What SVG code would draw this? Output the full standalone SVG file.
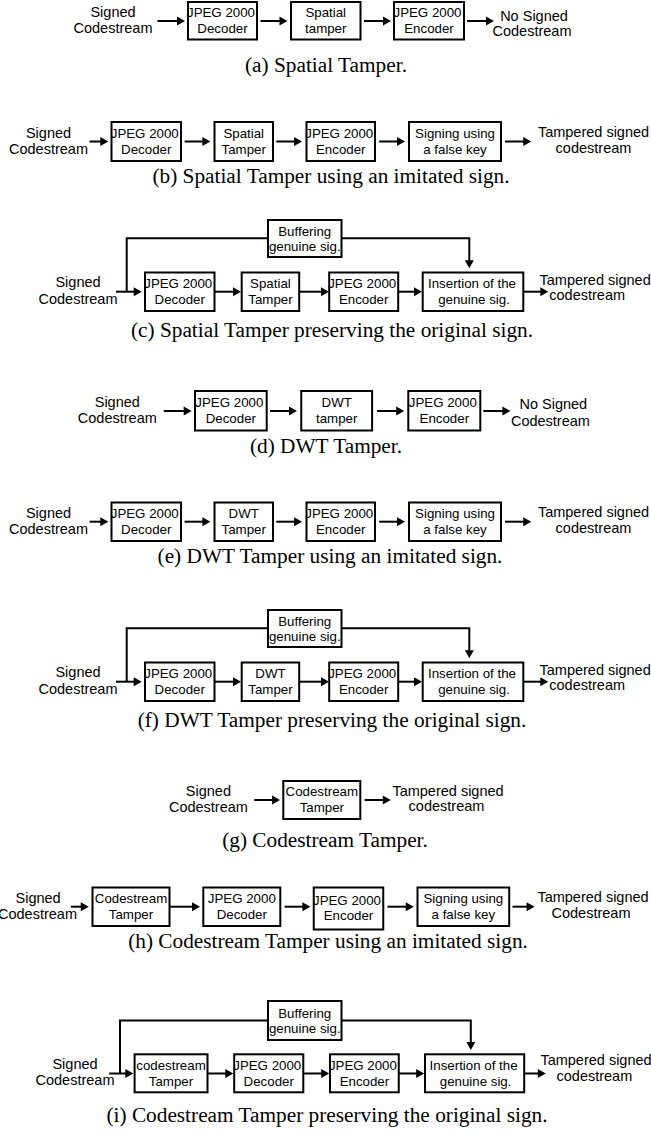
<svg xmlns="http://www.w3.org/2000/svg" width="651" height="1139" viewBox="0 0 651 1139">
  <style>
    .n rect { fill: #fff; stroke: #000; stroke-width: 2; }
    .bt { font-family: "Liberation Sans", Arial, sans-serif; font-size: 13.3px; text-anchor: middle; fill: #000; }
    .lb { font-family: "Liberation Sans", Arial, sans-serif; font-size: 14.5px; text-anchor: middle; fill: #000; }
    .ls { text-anchor: start; }
    .cap { font-family: "Liberation Serif", "Times New Roman", serif; font-size: 21.3px; text-anchor: middle; fill: #000; }
    .a { fill: none; stroke: #000; stroke-width: 2; marker-end: url(#ah); }
    .w { fill: none; stroke: #000; stroke-width: 2; }
  </style>
  <defs>
    <marker id="ah" markerUnits="userSpaceOnUse" markerWidth="8" markerHeight="9" refX="2" refY="4.5" orient="auto" overflow="visible">
      <path d="M0,0 L8,4.5 L0,9 Z" fill="#000"/>
    </marker>
  </defs>
  <rect width="651" height="1139" fill="#fff"/>

  <!-- (a) spatial tamper -->
  <g id="fig-a">
    <g id="a-connectors">
      <path class="a" d="M157.5,21 H179"/>
      <path class="a" d="M260.5,21 H281.5"/>
      <path class="a" d="M364,21 H385"/>
      <path class="a" d="M467,21 H488"/>
    </g>
    <g id="a-in"><text class="lb" x="113" y="17">Signed</text><text class="lb" x="113" y="33">Codestream</text></g>
    <g id="a-dec" class="n"><rect x="188" y="2" width="69" height="37.5"/><text class="bt" x="221" y="17">JPEG 2000</text><text class="bt" x="222.5" y="33">Decoder</text></g>
    <g id="a-tamper" class="n"><rect x="291" y="2" width="69.5" height="37.5"/><text class="bt" x="325.75" y="17">Spatial</text><text class="bt" x="325.75" y="33">tamper</text></g>
    <g id="a-enc" class="n"><rect x="394" y="2" width="70" height="37.5"/><text class="bt" x="427.5" y="17">JPEG 2000</text><text class="bt" x="429" y="33">Encoder</text></g>
    <g id="a-out"><text class="lb" x="534" y="21">No Signed</text><text class="lb" x="532" y="36">Codestream</text></g>
    <text class="cap" x="326" y="71.7">(a) Spatial Tamper.</text>
  </g>

  <!-- (b) spatial tamper, re-signed with a false key -->
  <g id="fig-b">
    <g id="b-connectors">
      <path class="a" d="M89.6,141.5 H102.3"/>
      <path class="a" d="M184.6,141.5 H204.4"/>
      <path class="a" d="M276.25,141.5 H296.1"/>
      <path class="a" d="M379.2,141.5 H399"/>
      <path class="a" d="M505,141.5 H525.25"/>
    </g>
    <g id="b-in"><text class="lb" x="48.5" y="137.5">Signed</text><text class="lb" x="48.5" y="153.5">Codestream</text></g>
    <g id="b-dec" class="n"><rect x="111.5" y="122" width="69.5" height="39"/><text class="bt" x="144.75" y="137.5">JPEG 2000</text><text class="bt" x="146.25" y="153.5">Decoder</text></g>
    <g id="b-tamper" class="n"><rect x="214.5" y="122" width="58.5" height="39"/><text class="bt" x="243.75" y="137.5">Spatial</text><text class="bt" x="243.75" y="153.5">Tamper</text></g>
    <g id="b-enc" class="n"><rect x="306.5" y="122" width="68.5" height="39"/><text class="bt" x="339.25" y="137.5">JPEG 2000</text><text class="bt" x="340.75" y="153.5">Encoder</text></g>
    <g id="b-sign" class="n"><rect x="409" y="122" width="92" height="39"/><text class="bt" x="455" y="137.5">Signing using</text><text class="bt" x="455" y="153.5">a false key</text></g>
    <g id="b-out"><text class="lb" x="593.5" y="137">Tampered signed</text><text class="lb" x="593.5" y="153">codestream</text></g>
    <text class="cap" x="331" y="183.3">(b) Spatial Tamper using an imitated sign.</text>
  </g>

  <!-- (c) spatial tamper, genuine signature re-inserted -->
  <g id="fig-c">
    <g id="c-connectors">
      <path class="w" d="M126.7,291.7 V238.3 H268"/>
      <path class="a" d="M341.5,238.3 H469.3 V262.3"/>
      <path class="a" d="M116,291.7 H135.7"/>
      <path class="a" d="M214.5,291.7 H235"/>
      <path class="a" d="M299.2,291.7 H323"/>
      <path class="a" d="M398.2,291.7 H416"/>
      <path class="a" d="M523.3,291.7 H542.3"/>
    </g>
    <g id="c-buf" class="n"><rect x="268" y="220" width="73.5" height="37"/><text class="bt" x="304.75" y="236">Buffering</text><text class="bt" x="304.75" y="251">genuine sig.</text></g>
    <g id="c-in"><text class="lb" x="78" y="287.3">Signed</text><text class="lb" x="78" y="304">Codestream</text></g>
    <g id="c-dec" class="n"><rect x="145" y="272.5" width="69.5" height="38.5"/><text class="bt" x="178.25" y="287.5">JPEG 2000</text><text class="bt" x="179.75" y="304">Decoder</text></g>
    <g id="c-tamper" class="n"><rect x="241.7" y="272.5" width="57.5" height="38.5"/><text class="bt" x="270.45" y="287.5">Spatial</text><text class="bt" x="270.45" y="304">Tamper</text></g>
    <g id="c-enc" class="n"><rect x="329.2" y="272.5" width="69" height="38.5"/><text class="bt" x="362.2" y="287.5">JPEG 2000</text><text class="bt" x="363.7" y="304">Encoder</text></g>
    <g id="c-ins" class="n"><rect x="422.7" y="272.5" width="100.6" height="38.5"/><text class="bt" x="472" y="287.5">Insertion of the</text><text class="bt" x="474" y="304">genuine sig.</text></g>
    <g id="c-out"><text class="lb ls" x="539.5" y="285">Tampered signed</text><text class="lb ls" x="549.3" y="300">codestream</text></g>
    <text class="cap" x="332" y="337.3">(c) Spatial Tamper preserving the original sign.</text>
  </g>

  <!-- (d) DWT tamper -->
  <g id="fig-d">
    <g id="d-connectors">
      <path class="a" d="M163.75,411 H185.7"/>
      <path class="a" d="M270,411 H291"/>
      <path class="a" d="M377,411 H398.2"/>
      <path class="a" d="M483.3,411 H504.4"/>
    </g>
    <g id="d-in"><text class="lb" x="117.3" y="406.7">Signed</text><text class="lb" x="117.3" y="422.7">Codestream</text></g>
    <g id="d-dec" class="n"><rect x="195" y="391" width="71.7" height="39.5"/><text class="bt" x="229.35" y="406.7">JPEG 2000</text><text class="bt" x="230.85" y="422.7">Decoder</text></g>
    <g id="d-tamper" class="n"><rect x="301.25" y="391" width="70.85" height="39.5"/><text class="bt" x="336.7" y="406.7">DWT</text><text class="bt" x="336.7" y="422.7">tamper</text></g>
    <g id="d-enc" class="n"><rect x="408.3" y="391" width="72" height="39.5"/><text class="bt" x="442.8" y="406.7">JPEG 2000</text><text class="bt" x="444.3" y="422.7">Encoder</text></g>
    <g id="d-out"><text class="lb" x="553.3" y="409.3">No Signed</text><text class="lb" x="550.4" y="426">Codestream</text></g>
    <text class="cap" x="326" y="452.7">(d) DWT Tamper.</text>
  </g>

  <!-- (e) DWT tamper, re-signed with a false key -->
  <g id="fig-e">
    <g id="e-connectors">
      <path class="a" d="M89.6,521.7 H102.3"/>
      <path class="a" d="M184.6,521.7 H204.4"/>
      <path class="a" d="M276.25,521.7 H296.1"/>
      <path class="a" d="M379.2,521.7 H399"/>
      <path class="a" d="M505,521.7 H525.25"/>
    </g>
    <g id="e-in"><text class="lb" x="48.5" y="518">Signed</text><text class="lb" x="48.5" y="534">Codestream</text></g>
    <g id="e-dec" class="n"><rect x="111.5" y="502.5" width="69.5" height="38.5"/><text class="bt" x="144.75" y="517.5">JPEG 2000</text><text class="bt" x="146.25" y="534">Decoder</text></g>
    <g id="e-tamper" class="n"><rect x="214.5" y="502.5" width="58.5" height="38.5"/><text class="bt" x="243.75" y="517.5">DWT</text><text class="bt" x="243.75" y="534">Tamper</text></g>
    <g id="e-enc" class="n"><rect x="306.5" y="502.5" width="68.5" height="38.5"/><text class="bt" x="339.25" y="517.5">JPEG 2000</text><text class="bt" x="340.75" y="534">Encoder</text></g>
    <g id="e-sign" class="n"><rect x="409" y="502.5" width="92" height="38.5"/><text class="bt" x="455" y="517.5">Signing using</text><text class="bt" x="455" y="534">a false key</text></g>
    <g id="e-out"><text class="lb" x="593.5" y="517.3">Tampered signed</text><text class="lb" x="593.5" y="533.3">codestream</text></g>
    <text class="cap" x="330" y="563.3">(e) DWT Tamper using an imitated sign.</text>
  </g>

  <!-- (f) DWT tamper, genuine signature re-inserted -->
  <g id="fig-f">
    <g id="f-connectors">
      <path class="w" d="M126.7,681.7 V628.3 H268"/>
      <path class="a" d="M341.5,628.3 H469.3 V652.3"/>
      <path class="a" d="M116,681.7 H135.7"/>
      <path class="a" d="M214.5,681.7 H235"/>
      <path class="a" d="M299.2,681.7 H323"/>
      <path class="a" d="M398.2,681.7 H416"/>
      <path class="a" d="M523.3,681.7 H542.3"/>
    </g>
    <g id="f-buf" class="n"><rect x="268" y="610" width="73.5" height="37"/><text class="bt" x="304.75" y="626">Buffering</text><text class="bt" x="304.75" y="641">genuine sig.</text></g>
    <g id="f-in"><text class="lb" x="78" y="677.3">Signed</text><text class="lb" x="78" y="694">Codestream</text></g>
    <g id="f-dec" class="n"><rect x="145" y="662.5" width="69.5" height="38.5"/><text class="bt" x="178.25" y="677.5">JPEG 2000</text><text class="bt" x="179.75" y="694">Decoder</text></g>
    <g id="f-tamper" class="n"><rect x="241.7" y="662.5" width="57.5" height="38.5"/><text class="bt" x="270.45" y="677.5">DWT</text><text class="bt" x="270.45" y="694">Tamper</text></g>
    <g id="f-enc" class="n"><rect x="329.2" y="662.5" width="69" height="38.5"/><text class="bt" x="362.2" y="677.5">JPEG 2000</text><text class="bt" x="363.7" y="694">Encoder</text></g>
    <g id="f-ins" class="n"><rect x="422.7" y="662.5" width="100.6" height="38.5"/><text class="bt" x="472" y="677.5">Insertion of the</text><text class="bt" x="474" y="694">genuine sig.</text></g>
    <g id="f-out"><text class="lb ls" x="539.5" y="675">Tampered signed</text><text class="lb ls" x="549.3" y="690">codestream</text></g>
    <text class="cap" x="332" y="727.3">(f) DWT Tamper preserving the original sign.</text>
  </g>

  <!-- (g) codestream tamper -->
  <g id="fig-g">
    <g id="g-connectors">
      <path class="a" d="M254.2,800 H274"/>
      <path class="a" d="M364.6,800 H384.8"/>
    </g>
    <g id="g-in"><text class="lb" x="208.4" y="796">Signed</text><text class="lb" x="208.4" y="811.7">Codestream</text></g>
    <g id="g-tamper" class="n"><rect x="283.3" y="781" width="77" height="38"/><text class="bt" x="321.8" y="796">Codestream</text><text class="bt" x="321.8" y="812">Tamper</text></g>
    <g id="g-out"><text class="lb" x="448" y="795.7">Tampered signed</text><text class="lb" x="446.5" y="811">codestream</text></g>
    <text class="cap" x="325" y="846.7">(g) Codestream Tamper.</text>
  </g>

  <!-- (h) codestream tamper, re-signed with a false key -->
  <g id="fig-h">
    <g id="h-connectors">
      <path class="a" d="M70.8,906.7 H82.75"/>
      <path class="a" d="M169.5,906.7 H194"/>
      <path class="a" d="M284.6,906.7 H304.4"/>
      <path class="a" d="M387.5,906.7 H407.75"/>
      <path class="a" d="M512.5,906.7 H528.6"/>
    </g>
    <g id="h-in"><text class="lb" x="38.1" y="903.3">Signed</text><text class="lb" x="37.5" y="919">Codestream</text></g>
    <g id="h-tamper" class="n"><rect x="92.5" y="887.5" width="77" height="38.5"/><text class="bt" x="131" y="903.3">Codestream</text><text class="bt" x="131" y="918.5">Tamper</text></g>
    <g id="h-dec" class="n"><rect x="203.3" y="887.5" width="77" height="38.5"/><text class="bt" x="241.8" y="903.3">JPEG 2000</text><text class="bt" x="241.8" y="918.5">Decoder</text></g>
    <g id="h-enc" class="n"><rect x="313.75" y="887.5" width="69.5" height="42"/><text class="bt" x="347" y="905">JPEG 2000</text><text class="bt" x="348.5" y="920">Encoder</text></g>
    <g id="h-sign" class="n"><rect x="417.5" y="887.5" width="91.7" height="38.5"/><text class="bt" x="463.35" y="903.3">Signing using</text><text class="bt" x="463.35" y="918.5">a false key</text></g>
    <g id="h-out"><text class="lb" x="593" y="902.3">Tampered signed</text><text class="lb" x="591" y="918.3">Codestream</text></g>
    <text class="cap" x="328" y="947.7">(h) Codestream Tamper using an imitated sign.</text>
  </g>

  <!-- (i) codestream tamper, genuine signature re-inserted -->
  <g id="fig-i">
    <g id="i-connectors">
      <path class="w" d="M120,1073.5 V1020.5 H268"/>
      <path class="a" d="M341.5,1020.5 H470.8 V1044"/>
      <path class="a" d="M109.2,1073.5 H127.3"/>
      <path class="a" d="M207.5,1073.5 H227.3"/>
      <path class="a" d="M303.3,1073.5 H323.2"/>
      <path class="a" d="M398.75,1073.5 H418.2"/>
      <path class="a" d="M524.2,1073.5 H539.8"/>
    </g>
    <g id="i-buf" class="n"><rect x="268" y="1001" width="73.5" height="39"/><text class="bt" x="304.75" y="1018">Buffering</text><text class="bt" x="304.75" y="1033">genuine sig.</text></g>
    <g id="i-in"><text class="lb" x="75" y="1069">Signed</text><text class="lb" x="75" y="1085">Codestream</text></g>
    <g id="i-tamper" class="n"><rect x="134.6" y="1054.3" width="72.9" height="38"/><text class="bt" x="171" y="1069.5">codestream</text><text class="bt" x="171" y="1085.5">Tamper</text></g>
    <g id="i-dec" class="n"><rect x="234.2" y="1054.3" width="69.1" height="38"/><text class="bt" x="267.25" y="1069.5">JPEG 2000</text><text class="bt" x="268.75" y="1085.5">Decoder</text></g>
    <g id="i-enc" class="n"><rect x="330" y="1054.3" width="68.75" height="38"/><text class="bt" x="362.9" y="1069.5">JPEG 2000</text><text class="bt" x="364.4" y="1085.5">Encoder</text></g>
    <g id="i-ins" class="n"><rect x="425" y="1054.3" width="99.2" height="38"/><text class="bt" x="473.6" y="1069.5">Insertion of the</text><text class="bt" x="475.6" y="1085.5">genuine sig.</text></g>
    <g id="i-out"><text class="lb ls" x="540.4" y="1065">Tampered signed</text><text class="lb ls" x="556.5" y="1081">codestream</text></g>
    <text class="cap" x="327" y="1121.7">(i) Codestream Tamper preserving the original sign.</text>
  </g>
</svg>
